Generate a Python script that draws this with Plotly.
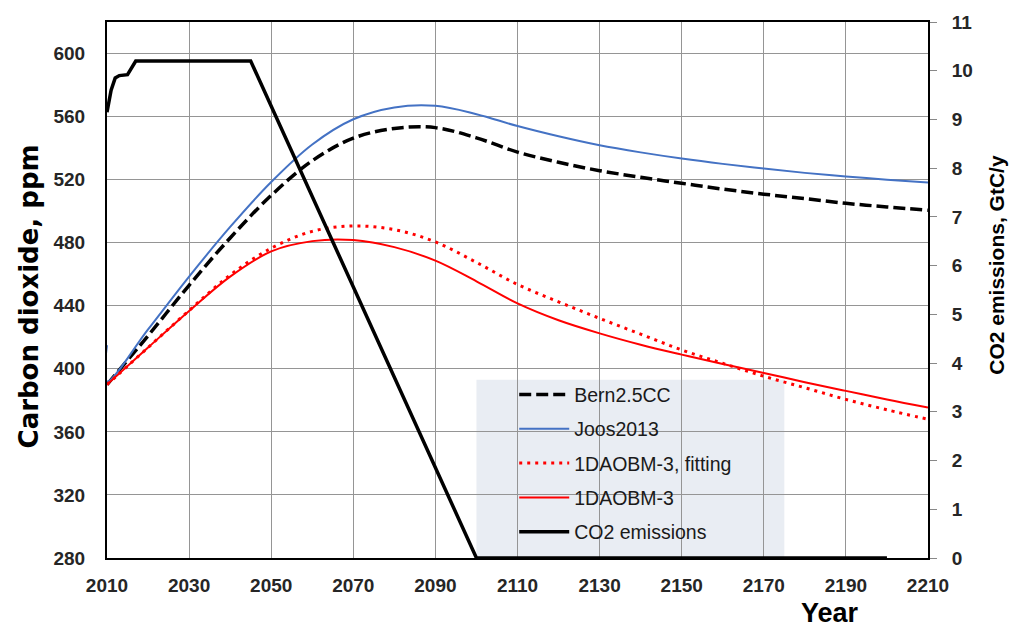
import plotly.graph_objects as go

years = [2010, 2020, 2030, 2040, 2050, 2060, 2070, 2080, 2090, 2100, 2110,
         2120, 2130, 2140, 2150, 2160, 2170, 2180, 2190, 2200, 2210]

bern = [390, 421, 453, 483, 510, 532, 546.3, 552.5, 553, 546.5, 537.5,
        531, 525.7, 521.5, 517.7, 514, 510.8, 508, 505, 502.7, 500.6]

joos_years = [2010] + years
joos = [415, 392, 425, 458.5, 490, 518.5, 542.3, 558.3, 565.8, 566.8, 561.5, 554,
        547.5, 541.8, 537.3, 533.4, 530, 527, 524.3, 522, 520, 518.2]

fit = [390, 413.5, 437, 459.5, 476.5, 487.2, 490.6, 488.3, 480.5, 467.5, 453.5,
       442.5, 432, 422, 412, 403.5, 395.3, 388, 380.6, 374, 368]

obm = [390, 413.5, 436.7, 458.5, 474.5, 481, 481.7, 477.2, 468.6, 455.5, 441.5,
       430.8, 422.5, 415.3, 409, 403, 397.4, 391.5, 386, 380.5, 375.4]

em_years = [2010, 2011, 2012, 2013, 2015, 2016, 2017, 2045, 2100, 2200]
em = [9.15, 9.6, 9.85, 9.9, 9.92, 10.05, 10.2, 10.2, 0, 0]

x_ticks = list(range(2010, 2211, 20))
y_ticks = list(range(280, 601, 40))
y2_ticks = list(range(0, 12))

FONT = "Liberation Sans, Arial, sans-serif"
TICK_COLOR = "#262626"
SM = 1.0

fig = go.Figure()
fig.add_trace(go.Scatter(x=years, y=bern, name="Bern2.5CC", mode="lines",
                         line=dict(color="black", width=3.5, dash="12px,5px", shape="spline", smoothing=SM),
                         legendgroup="a"))
fig.add_trace(go.Scatter(x=joos_years, y=joos, name="Joos2013", mode="lines",
                         line=dict(color="#4472c4", width=2, shape="spline", smoothing=SM),
                         legendgroup="b"))
fig.add_trace(go.Scatter(x=years, y=fit, name="1DAOBM-3, fitting", mode="lines",
                         line=dict(color="#ff0000", width=3, dash="3px,5px", shape="spline", smoothing=SM),
                         legendgroup="c"))
fig.add_trace(go.Scatter(x=years, y=obm, name="1DAOBM-3", mode="lines",
                         line=dict(color="#ff0000", width=2, shape="spline", smoothing=SM),
                         legendgroup="d"))
fig.add_trace(go.Scatter(x=em_years, y=em, name="CO2 emissions", mode="lines",
                         line=dict(color="black", width=3.5), yaxis="y2",
                         legendgroup="e"))

fig.add_shape(type="rect", xref="x", yref="y", x0=2100, x1=2175, y0=280, y1=393,
              fillcolor="#e9edf3", line=dict(width=0), layer="below")

fig.update_layout(
    width=1010, height=629,
    margin=dict(l=107, r=82, t=17, b=71),
    paper_bgcolor="white", plot_bgcolor="white",
    font=dict(family=FONT, color="#222222"),
    showlegend=True,
    legend=dict(x=0.496, y=0.341, xanchor="left", yanchor="top",
                bgcolor="rgba(0,0,0,0)", font=dict(size=19.5, color="#1a1a1a"),
                tracegroupgap=6, itemwidth=50, traceorder="grouped"),
    xaxis=dict(range=[2010, 2210], tickvals=x_ticks, ticktext=[str(v) for v in x_ticks],
               showgrid=True, gridcolor="#959595", gridwidth=1,
               showline=True, linecolor="black", linewidth=2, mirror=True,
               ticks="", tickfont=dict(size=19, family=FONT, weight="bold", color=TICK_COLOR),
               ticklabelstandoff=9, zeroline=False),
    yaxis=dict(range=[280, 620], tickvals=y_ticks, ticktext=[str(v) for v in y_ticks],
               showgrid=True, gridcolor="#959595", gridwidth=1,
               showline=True, linecolor="black", linewidth=2, mirror=True,
               ticks="", tickfont=dict(size=19, family=FONT, weight="bold", color=TICK_COLOR),
               ticklabelstandoff=16, zeroline=False),
    yaxis2=dict(range=[0, 11], tickvals=y2_ticks, ticktext=[str(v) for v in y2_ticks],
                overlaying="y", side="right", showgrid=False,
                showline=True, linecolor="black", linewidth=2,
                ticks="outside", ticklen=7, tickcolor="#888888",
                tickfont=dict(size=19, family=FONT, weight="bold", color=TICK_COLOR),
                ticklabelstandoff=11, zeroline=False),
)

fig.add_annotation(text="Carbon dioxide, ppm", xref="paper", yref="paper",
                   x=-0.095, y=0.488, textangle=-90, showarrow=False,
                   xanchor="center", yanchor="middle",
                   font=dict(family="DejaVu Sans, sans-serif", size=26, weight="bold", color="black"))
fig.add_annotation(text="CO2 emissions, GtC/y", xref="paper", yref="paper",
                   x=1.084, y=0.547, textangle=-90, showarrow=False,
                   xanchor="center", yanchor="middle",
                   font=dict(family=FONT, size=21, weight="bold", color="black"))
fig.add_annotation(text="Year", xref="paper", yref="paper",
                   x=0.8806, y=-0.1017, showarrow=False,
                   xanchor="center", yanchor="middle",
                   font=dict(family=FONT, size=27, weight="bold", color="black"))

fig.write_html("out.html")
